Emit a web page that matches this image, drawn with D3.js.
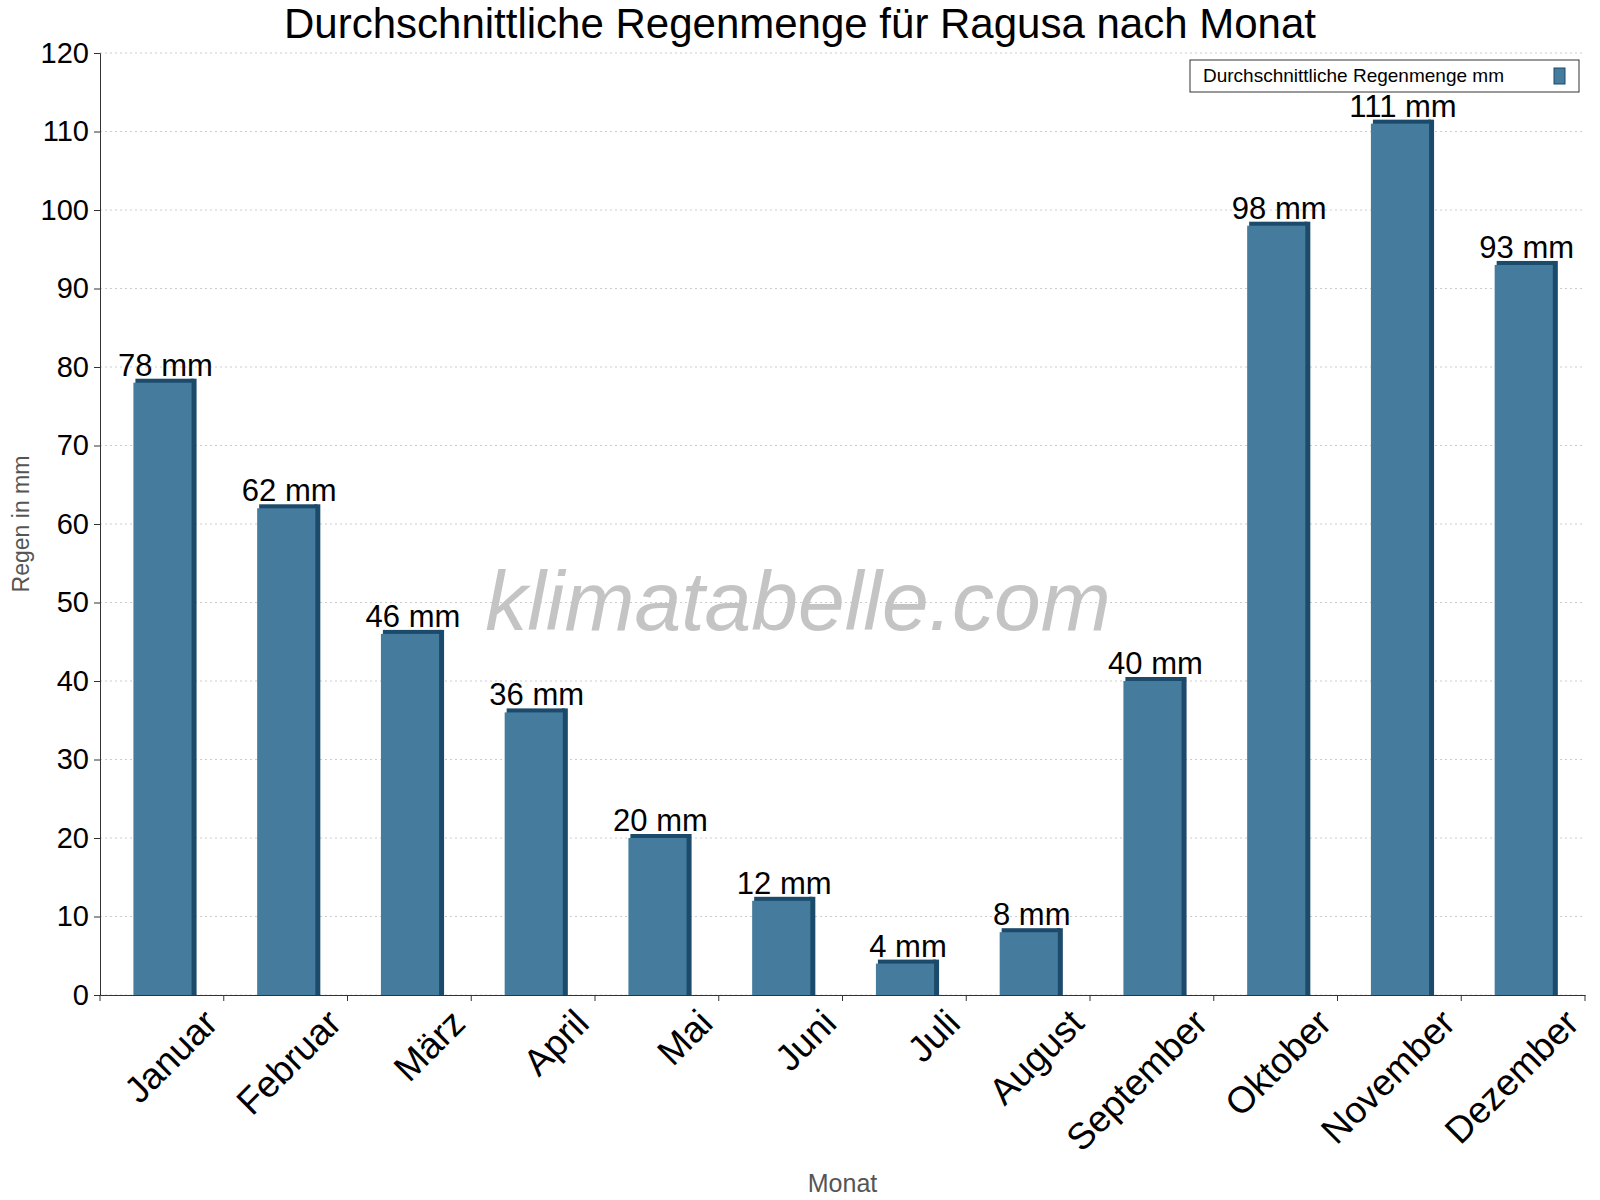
<!DOCTYPE html>
<html>
<head>
<meta charset="utf-8">
<script src="https://d3js.org/d3.v7.min.js"></script>
<style>
body { margin: 0; background: #fff; }
text { font-family: "Liberation Sans", Arial, sans-serif; }
</style>
</head>
<body>
<svg id="chart" width="1600" height="1200"></svg>
<script>
var months = ["Januar", "Februar", "März", "April", "Mai", "Juni", "Juli", "August", "September", "Oktober", "November", "Dezember"];
var rain = [78, 62, 46, 36, 20, 12, 4, 8, 40, 98, 111, 93];
var yTicks = [0, 10, 20, 30, 40, 50, 60, 70, 80, 90, 100, 110, 120];

var margin = {left: 100, top: 53, right: 15, bottom: 200};
var width = 1585 - margin.left, height = 995 - margin.top;

var svg = d3.select("#chart");
var g = svg.append("g").attr("transform", "translate(" + margin.left + "," + margin.top + ")");

var x = d3.scaleBand().domain(months).range([0, width]);
var y = d3.scaleLinear().domain([0, 120]).range([height, 0]);

// gridlines
g.selectAll(".grid").data(yTicks).enter().append("line")
  .attr("x1", 0).attr("x2", width)
  .attr("y1", function(d) { return y(d); }).attr("y2", function(d) { return y(d); })
  .attr("stroke", "#ccc").attr("stroke-dasharray", "2,3");

// watermark
g.append("text").attr("x", width * 0.47).attr("y", y(50) + 27)
  .attr("text-anchor", "middle").style("font-size", "84px").style("font-style", "italic")
  .attr("fill", "#c4c4c4").text("klimatabelle.com");

var bw = x.bandwidth() * 0.47, off = x.bandwidth() * 0.27;
var bars = g.selectAll(".bar").data(rain).enter().append("g");
// side
bars.append("rect")
  .attr("x", function(d, i) { return x(months[i]) + off + bw - 1; })
  .attr("y", function(d) { return y(d) - 4; })
  .attr("width", 6).attr("height", function(d) { return height - y(d) + 4; })
  .attr("fill", "#1b4a6b");
// top
bars.append("rect")
  .attr("x", function(d, i) { return x(months[i]) + off + 2; })
  .attr("y", function(d) { return y(d) - 4; })
  .attr("width", bw).attr("height", 5)
  .attr("fill", "#1b4a6b");
// face
bars.append("rect")
  .attr("x", function(d, i) { return x(months[i]) + off; })
  .attr("y", function(d) { return y(d); })
  .attr("width", bw).attr("height", function(d) { return height - y(d); })
  .attr("fill", "#457b9d");
// value labels
bars.append("text")
  .attr("x", function(d, i) { return x(months[i]) + off + bw / 2 + 3; })
  .attr("y", function(d) { return y(d) - 7; })
  .attr("text-anchor", "middle").style("font-size", "31px")
  .text(function(d) { return d + " mm"; });

// axes
var xAxis = g.append("g").attr("transform", "translate(0," + height + ")")
  .call(d3.axisBottom(x).tickSize(0).tickFormat(""));
xAxis.select(".domain").attr("stroke", "#333");
g.selectAll(".xt").data(months.concat([""])).enter().append("line")
  .attr("x1", function(d, i) { return i * x.step(); }).attr("x2", function(d, i) { return i * x.step(); })
  .attr("y1", height).attr("y2", height + 6).attr("stroke", "#333");
g.selectAll(".xl").data(months).enter().append("text")
  .attr("transform", function(d) { return "translate(" + (x(d) + x.bandwidth() * 0.82) + "," + (height + 12) + ") rotate(-45)"; })
  .attr("text-anchor", "end").attr("dy", "0.7em").style("font-size", "37px")
  .text(function(d) { return d; });

var yAxis = g.append("g").call(d3.axisLeft(y).tickValues(yTicks).tickSize(6).tickPadding(5));
yAxis.select(".domain").attr("stroke", "#333");
yAxis.selectAll("line").attr("stroke", "#333");
yAxis.selectAll("text").style("font-size", "29px").style("font-family", "Liberation Sans, Arial, sans-serif").attr("fill", "#000");

// axis titles
svg.append("text").attr("transform", "translate(29," + (margin.top + y(60)) + ") rotate(-90)")
  .attr("text-anchor", "middle").style("font-size", "23px").attr("fill", "#555").text("Regen in mm");
svg.append("text").attr("x", margin.left + width / 2).attr("y", 1192)
  .attr("text-anchor", "middle").style("font-size", "25px").attr("fill", "#555").text("Monat");

// title
svg.append("text").attr("x", 800).attr("y", 38).attr("text-anchor", "middle")
  .style("font-size", "42px").text("Durchschnittliche Regenmenge für Ragusa nach Monat");

// legend
var lg = svg.append("g").attr("transform", "translate(1190,60)");
lg.append("rect").attr("width", 389).attr("height", 32).attr("fill", "#fff").attr("stroke", "#333");
lg.append("text").attr("x", 13).attr("y", 22).style("font-size", "19px").text("Durchschnittliche Regenmenge mm");
lg.append("rect").attr("x", 364).attr("y", 8).attr("width", 11).attr("height", 16).attr("fill", "#457b9d").attr("stroke", "#1b4a6b");
</script>
</body>
</html>
